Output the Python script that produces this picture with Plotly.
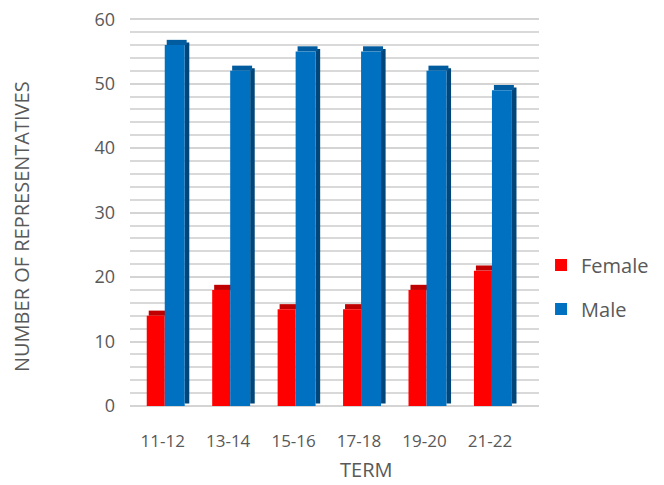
import plotly.graph_objects as go

terms = ["11-12", "13-14", "15-16", "17-18", "19-20", "21-22"]
female = [14, 18, 15, 15, 18, 21]
male = [56, 52, 55, 55, 52, 49]

RED, RED_DARK = "#FF0000", "#C00000"
BLUE, BLUE_DARK = "#0070C0", "#00467A"
DEPTH = 0.8  # pseudo-3D depth in data units

fig = go.Figure()
# side face of male bars
fig.add_trace(go.Bar(x=terms, y=male, base=[DEPTH / 2] * len(male), offset=0.336, width=0.07,
                     marker=dict(color=BLUE_DARK, line=dict(width=0)), showlegend=False, hoverinfo="skip"))
# top faces
fig.add_trace(go.Bar(x=terms, y=[DEPTH] * len(female), base=female, offset=-0.214, width=0.275,
                     marker=dict(color=RED_DARK, line=dict(width=0)), showlegend=False, hoverinfo="skip"))
fig.add_trace(go.Bar(x=terms, y=[DEPTH] * len(male), base=male, offset=0.061, width=0.305,
                     marker=dict(color="#005C9E", line=dict(width=0)), showlegend=False, hoverinfo="skip"))
# front faces
fig.add_trace(go.Bar(name="Female", x=terms, y=female, offset=-0.244, width=0.275, legendgroup="f",
                     marker=dict(color=RED, line=dict(width=0))))
fig.add_trace(go.Bar(name="Male", x=terms, y=male, offset=0.031, width=0.305, legendgroup="m",
                     marker=dict(color=BLUE, line=dict(width=0))))

font = "Open Sans, Lato, sans-serif"
fig.update_layout(
    width=656, height=477,
    margin=dict(l=122, r=125, t=8, b=79, autoexpand=False),
    barmode="overlay",
    plot_bgcolor="white", paper_bgcolor="white",
    font=dict(family=font, color="#595959", size=16),
    legend=dict(x=1.005, y=0.305, xanchor="left", yanchor="middle",
                font=dict(size=20, color="#595959"), tracegroupgap=15,
                itemwidth=30, traceorder="grouped"),
    xaxis=dict(type="category", automargin=False, range=[-0.5, 5.75],
               tickfont=dict(size=17), ticklabelstandoff=23, showline=False, ticks=""),
    yaxis=dict(automargin=False,
               range=[0, 60.5], tickvals=[0, 10, 20, 30, 40, 50, 60], tickfont=dict(size=18),
               ticklabelstandoff=14, ticklabeloverflow="allow",
               showgrid=True, gridcolor="#D4D4D4", gridwidth=2,
               minor=dict(dtick=2, showgrid=True, gridcolor="#D9D9D9", gridwidth=2),
               zeroline=True, zerolinecolor="#D4D4D4", zerolinewidth=2, ticks=""),
    annotations=[
        dict(text="NUMBER OF REPRESENTATIVES", xref="paper", yref="paper", x=-0.264, y=0.459,
             textangle=-90, showarrow=False, font=dict(size=20, color="#595959"),
             xanchor="center", yanchor="middle"),
        dict(text="TERM", xref="paper", yref="paper", x=0.577, y=-0.164,
             showarrow=False, font=dict(size=20, color="#595959"),
             xanchor="center", yanchor="middle"),
    ],
)
fig.write_html("out.html")
